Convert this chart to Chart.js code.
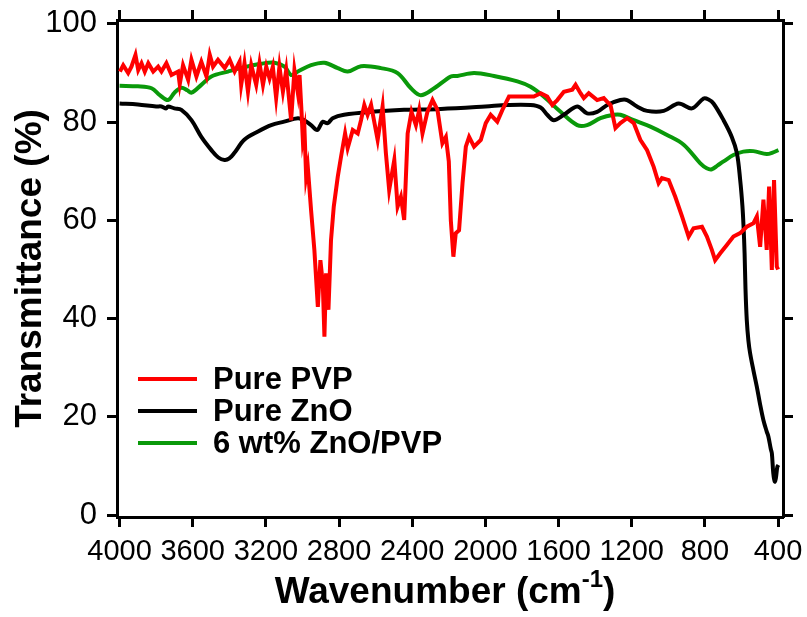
<!DOCTYPE html>
<html><head><meta charset="utf-8">
<script src="https://cdn.jsdelivr.net/npm/chart.js@4"></script>
<style>html,body{margin:0;padding:0;background:#fff;overflow:hidden}</style>
</head><body>
<canvas id="c" width="807" height="617"></canvas>
<script>
// ---- data ----
const xTickLabels = [4000, 3600, 3200, 2800, 2400, 2000, 1600, 1200, 800, 400];
const yTickLabels = [0, 20, 40, 60, 80, 100];
const seriesNames = ['Pure PVP', 'Pure ZnO', '6 wt% ZnO/PVP'];
const seriesColors = ['#ff0000', '#000000', '#0a990a'];

const pvpWavenumber = [3998,3980,3953,3935,3913,3898,3880,3862,3843,3816,3789,3771,3744,3716,3680,3671,3653,3625,3607,3580,3553,3525,3507,3489,3462,3425,3398,3371,3344,3335,3317,3298,3280,3253,3235,3216,3198,3180,3162,3144,3126,3107,3089,3062,3044,3025,3016,3005,2998,2989,2980,2971,2953,2935,2916,2902,2889,2880,2871,2858,2844,2829,2807,2789,2767,2753,2725,2698,2680,2662,2644,2625,2589,2562,2544,2526,2498,2480,2462,2444,2425,2404,2380,2362,2344,2317,2289,2262,2235,2216,2200,2189,2175,2162,2144,2125,2107,2089,2062,2025,1998,1971,1935,1907,1871,1807,1735,1698,1662,1634,1607,1571,1525,1507,1480,1462,1435,1389,1353,1330,1316,1289,1262,1225,1189,1153,1116,1080,1053,1035,998,962,925,889,862,816,789,762,744,716,680,644,607,571,535,516,498,480,462,449,434,422,407,400];
const pvpT = [90.3,91.6,90.0,91.3,93.7,90.6,92.0,90.3,92.0,90.3,91.3,90.3,92.0,89.6,90.3,87.7,91.6,88.6,92.7,89.3,92.3,89.3,93.7,91.3,92.7,91.0,92.7,90.3,92.3,87.6,92.0,86.2,91.6,87.6,92.0,87.6,91.3,88.9,91.3,84.9,91.3,86.2,90.6,80.4,90.6,85.9,89.6,82.0,76.4,78.4,68.9,70.9,62.1,54.0,42.4,51.9,47.2,36.3,49.2,41.8,56.0,62.8,68.9,73.0,77.7,74.7,78.4,77.7,80.4,83.5,81.5,83.5,76.4,83.2,73.7,66.2,72.3,62.8,64.8,60.1,77.7,82.1,79.4,82.5,77.7,82.1,84.5,82.5,75.7,77.0,72.0,60.0,52.6,57.4,58.0,67.6,75.0,77.0,75.0,76.4,79.8,81.5,80.1,82.5,85.2,85.2,85.2,85.9,85.2,83.5,84.5,86.2,86.6,87.6,85.9,84.9,85.9,84.5,84.9,84.0,83.5,78.8,79.8,80.8,79.8,76.4,74.3,70.9,67.6,68.6,68.2,64.8,60.8,56.7,58.4,58.7,56.7,54.0,51.9,53.3,55.0,56.7,57.4,58.7,59.4,60.8,54.6,64.2,54.0,66.9,49.9,68.2,50.6,50.0];

const znoWavenumber = [4000,3900,3800,3771,3745,3735,3700,3662,3607,3553,3498,3460,3426,3400,3373,3318,3243,3171,3100,3025,2991,2953,2920,2900,2889,2862,2835,2773,2625,2445,2244,2000,1880,1753,1698,1662,1626,1571,1498,1444,1389,1334,1262,1225,1171,1116,1025,944,871,807,780,753,698,653,625,607,595,589,583,578,571,562,553,535,516,498,480,462,453,440,434,426,418,412,404,398];
const znoT = [83.8,83.6,83.2,83.2,82.8,83.2,82.8,82.5,80.4,77.0,74.3,72.8,72.3,72.6,73.7,76.4,78.1,79.4,80.1,80.8,80.4,79.4,78.4,79.5,80.1,79.8,80.8,81.5,82.1,82.5,82.7,83.2,83.5,83.5,83.0,81.5,80.4,81.5,83.2,81.8,82.1,83.5,84.5,84.5,83.2,82.3,82.3,83.8,82.8,84.8,84.6,83.8,80.4,77.0,73.7,68.2,63.0,59.0,53.3,46.0,39.7,35.5,33.0,29.5,26.1,22.5,19.3,17.0,16.0,13.5,12.6,8.5,6.8,7.5,9.8,10.2];

const compWavenumber = [4000,3900,3825,3780,3735,3700,3662,3630,3607,3553,3498,3407,3317,3225,3153,3098,3062,3025,2953,2880,2807,2753,2680,2571,2480,2407,2353,2280,2189,2153,2062,1953,1825,1753,1680,1589,1498,1444,1371,1298,1262,1189,1098,1007,916,825,790,762,730,698,644,590,535,462,430,398];
const compT = [87.4,87.3,86.9,85.5,84.5,86.0,87.0,86.5,86.0,87.6,89.3,90.3,91.2,91.9,92.1,91.3,89.6,90.3,91.6,92.1,91.0,90.3,91.4,91.0,90.0,86.9,85.5,86.9,89.3,89.4,90.0,89.4,88.3,87.2,85.2,82.1,79.4,79.4,80.8,81.5,81.5,80.4,79.1,77.4,75.4,71.6,70.6,70.4,71.2,72.0,73.3,74.0,74.1,73.5,73.8,74.3];

// ---- build datasets ----
function pts(xs, ys) { return xs.map((x, i) => ({ x: x, y: ys[i] })); }
const datasets = [
  { label: seriesNames[0], data: pts(pvpWavenumber, pvpT), borderColor: seriesColors[0], tension: 0 },
  { label: seriesNames[1], data: pts(znoWavenumber, znoT), borderColor: seriesColors[1], tension: 0.35 },
  { label: seriesNames[2], data: pts(compWavenumber, compT), borderColor: seriesColors[2], tension: 0.35 }
].map(d => Object.assign(d, { borderWidth: 4, pointRadius: 0, fill: false, cubicInterpolationMode: 'default' }));

const FONT = "'Liberation Sans', Arial, Helvetica, sans-serif";
const gridOpts = { display: true, drawOnChartArea: false, drawTicks: true, tickLength: 10, tickWidth: 3, tickColor: '#000' };
const borderOpts = { display: true, width: 3, color: '#000' };
const X_MIN = 373, X_MAX = 4014, Y_MIN = -0.4, Y_MAX = 100.8;

const xTicksFn = s => { s.ticks = xTickLabels.map(v => ({ value: v })); };
const yTicksFn = s => { s.ticks = yTickLabels.map(v => ({ value: v })); };
function fixSize(prop, val) {
  return s => { s[prop] = val; s.paddingTop = 0; s.paddingBottom = 0; s.paddingLeft = 0; s.paddingRight = 0; };
}

const legendPlugin = {
  id: 'innerLegend',
  afterDraw(chart) {
    const ctx = chart.ctx;
    const rows = [379, 411, 443];
    ctx.save();
    chart.data.datasets.forEach((ds, i) => {
      ctx.strokeStyle = ds.borderColor;
      ctx.lineWidth = 4;
      ctx.beginPath();
      ctx.moveTo(138, rows[i]);
      ctx.lineTo(197, rows[i]);
      ctx.stroke();
      ctx.fillStyle = '#000';
      ctx.font = 'bold 31px ' + FONT;
      ctx.textBaseline = 'middle';
      ctx.textAlign = 'left';
      ctx.fillText(ds.label, 213, rows[i] + 1);
    });
    ctx.restore();
  }
};

const xTitlePlugin = {
  id: 'xTitle',
  afterDraw(chart) {
    const ctx = chart.ctx;
    ctx.save();
    ctx.fillStyle = '#000';
    ctx.textBaseline = 'alphabetic';
    ctx.textAlign = 'left';
    const main = 'Wavenumber (cm', sup = '-1', tail = ')';
    const bigF = 'bold 37px ' + FONT, supF = 'bold 24px ' + FONT;
    ctx.font = bigF; const w1 = ctx.measureText(main).width; const w3 = ctx.measureText(tail).width;
    ctx.font = supF; const w2 = ctx.measureText(sup).width;
    const total = w1 + w2 + w3;
    let x = 445 - total / 2;
    const base = 603;
    ctx.font = bigF; ctx.fillText(main, x, base); x += w1;
    ctx.font = supF; ctx.fillText(sup, x, base - 16); x += w2;
    ctx.font = bigF; ctx.fillText(tail, x, base);
    ctx.restore();
  }
};

new Chart(document.getElementById('c'), {
  type: 'line',
  data: { datasets: datasets },
  plugins: [legendPlugin, xTitlePlugin],
  options: {
    responsive: false,
    animation: false,
    devicePixelRatio: 1,
    layout: { padding: 0 },
    plugins: { legend: { display: false }, tooltip: { enabled: false }, title: { display: false } },
    scales: {
      x: {
        type: 'linear', position: 'bottom', reverse: true, min: X_MIN, max: X_MAX,
        afterBuildTicks: xTicksFn,
        afterFit: fixSize('height', 100),
        ticks: { color: '#000', font: { family: FONT, size: 29 }, padding: 8, maxRotation: 0, autoSkip: false, callback: v => String(v) },
        grid: gridOpts, border: borderOpts
      },
      x2: {
        type: 'linear', axis: 'x', position: 'top', reverse: true, min: X_MIN, max: X_MAX,
        afterBuildTicks: xTicksFn,
        afterFit: fixSize('height', 20),
        ticks: { display: false },
        grid: gridOpts, border: borderOpts
      },
      y: {
        type: 'linear', position: 'left', min: Y_MIN, max: Y_MAX,
        afterBuildTicks: yTicksFn,
        afterFit: fixSize('width', 117),
        ticks: { color: '#000', font: { family: FONT, size: 31 }, padding: 10, callback: v => String(v) },
        grid: gridOpts, border: borderOpts,
        title: { display: true, text: 'Transmittance (%)', color: '#000', font: { family: FONT, size: 37, weight: 'bold' }, padding: { top: 9, bottom: 0 } }
      },
      y2: {
        type: 'linear', axis: 'y', position: 'right', min: Y_MIN, max: Y_MAX,
        afterBuildTicks: yTicksFn,
        afterFit: fixSize('width', 24),
        ticks: { display: false },
        grid: gridOpts, border: borderOpts
      }
    }
  }
});
</script>
</body></html>
